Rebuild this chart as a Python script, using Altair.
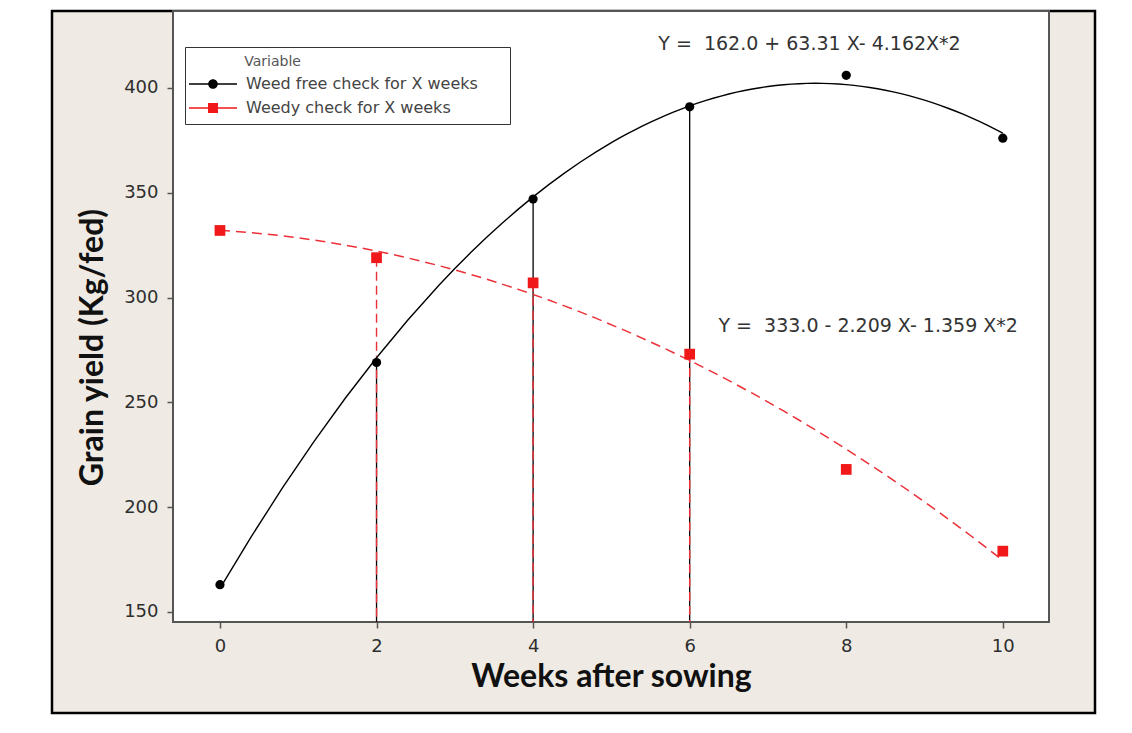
import altair as alt
import pandas as pd

# ---- data ----
weeks = [0, 2, 4, 6, 8, 10]
weed_free = [163, 269, 347, 391, 406, 376]
weedy = [332, 319, 307, 273, 218, 179]
series_names = ["Weed free check for X weeks", "Weedy check for X weeks"]
series_colors = ["#000000", "#f01818"]
drop_weeks = [2, 4, 6]
x_ticks = [0, 2, 4, 6, 8, 10]
y_ticks = [150, 200, 250, 300, 350, 400]
eq_text = ["Y = \u00a0162.0 + 63.31 X- 4.162X*2", "Y = \u00a0333.0 - 2.209 X- 1.359 X*2"]
eq_week = [7.53, 8.28]
eq_yield = [421, 286.5]

# ---- layout / style constants ----
W, H = 876, 611
X_DOMAIN = [-0.6, 10.59]
Y_DOMAIN = [145.2, 436.7]
BEIGE = "#efebe4"
RED_LINE = "#ec3038"

df = pd.DataFrame({
    "week": weeks * 2,
    "yield": weed_free + weedy,
    "series": [series_names[0]] * len(weeks) + [series_names[1]] * len(weeks),
})
eq_df = pd.DataFrame({"week": eq_week, "yield": eq_yield, "label": eq_text})
one = pd.DataFrame({"k": [0]})

x_enc = alt.X(
    "week:Q",
    scale=alt.Scale(domain=X_DOMAIN, nice=False, zero=False),
    axis=alt.Axis(
        values=x_ticks, title="Weeks after sowing", zindex=1, domain=False, grid=False,
        tickColor="#555", tickSize=6, tickWidth=1.5, labelPadding=9,
        labelFont="DejaVu Sans", labelFontSize=18, labelColor="#2e2e2e",
        titleFont="Lato", titleFontSize=32, titleFontWeight="bold", titleColor="#111",
        titleY=54, titleBaseline="middle",
    ),
)
y_enc = alt.Y(
    "yield:Q",
    scale=alt.Scale(domain=Y_DOMAIN, nice=False, zero=False),
    axis=alt.Axis(
        values=y_ticks, title="Grain yield (Kg/fed)", zindex=1, domain=False, grid=False,
        tickColor="#555", tickSize=6, tickWidth=1.5, labelPadding=9,
        labelFont="DejaVu Sans", labelFontSize=18, labelColor="#2e2e2e",
        titleFont="Lato", titleFontSize=32, titleFontWeight="bold", titleColor="#111",
        titleX=-81, titleY=336, titleAngle=270, titleAlign="center", titleBaseline="middle",
    ),
)

# decorative frame and plot background
frame = alt.Chart(one).mark_rect(fill=BEIGE, stroke="#000", strokeWidth=2.5).encode(
    x=alt.value(-121), x2=alt.value(922), y=alt.value(0), y2=alt.value(702)
)
plot_bg = alt.Chart(one).mark_rect(fill="white", stroke="#555", strokeWidth=2).encode(
    x=alt.value(0), x2=alt.value(W), y=alt.value(0), y2=alt.value(H)
)

base = alt.Chart(df)
is_free = alt.datum.series == series_names[0]
is_weedy = alt.datum.series == series_names[1]
drops = base.transform_filter(alt.FieldOneOfPredicate(field="week", oneOf=drop_weeks))
drop_black = drops.transform_filter(is_free).mark_rule(
    color=series_colors[0], strokeWidth=1.3
).encode(x=x_enc, y=y_enc, y2=alt.Y2Datum(Y_DOMAIN[0]))
drop_red = drops.transform_filter(is_weedy).mark_rule(
    color=RED_LINE, strokeWidth=1.4, strokeDash=[9, 5]
).encode(x=x_enc, y=y_enc, y2=alt.Y2Datum(Y_DOMAIN[0]))

fit_free = base.transform_filter(is_free).transform_regression(
    "week", "yield", method="poly", order=2, extent=[0, 10]
).mark_line(strokeWidth=1.4, color=series_colors[0]).encode(x=x_enc, y=y_enc)
fit_weedy = base.transform_filter(is_weedy).transform_regression(
    "week", "yield", method="poly", order=2, extent=[0, 10]
).mark_line(strokeWidth=1.5, color=RED_LINE, strokeDash=[10, 6]).encode(x=x_enc, y=y_enc)

pts_free = base.transform_filter(is_free).mark_point(
    filled=True, opacity=1, shape="circle", size=85, color=series_colors[0]
).encode(x=x_enc, y=y_enc)
pts_weedy = base.transform_filter(is_weedy).mark_point(
    filled=True, opacity=1, shape="square", size=115, color=series_colors[1]
).encode(x=x_enc, y=y_enc)

# legend glyphs: line segment + marker, all filled
circle_path = ("M-6,-0.19H-1.1V0.19H-6Z M1.1,-0.19H6V0.19H1.1Z "
               "M1.2,0A1.2,1.2,0,1,1,-1.2,0A1.2,1.2,0,1,1,1.2,0Z")
square_path = ("M-6,-0.19H-1.25V0.19H-6Z M1.25,-0.19H6V0.19H1.25Z "
               "M-1.25,-1.25H1.25V1.25H-1.25Z")
leg = alt.Legend(
    title="\u2800" * 5 + "Variable", orient="none", legendX=12, legendY=36,
    strokeColor="#333", fillColor="white", padding=8, cornerRadius=0,
    titleFont="DejaVu Sans", titleFontSize=14, titleFontWeight="normal", titleColor="#555",
    titlePadding=7, labelFont="DejaVu Sans", labelFontSize=16, labelColor="#444",
    labelLimit=600, symbolSize=64, symbolStrokeWidth=0, symbolOpacity=1,
    symbolOffset=12, labelOffset=25, rowPadding=8,
    labelExpr="datum.label + '\u2800\u2800'",
)
legend_layer = base.mark_point(filled=True, size=0).encode(
    x=x_enc, y=y_enc,
    color=alt.Color("series:N", scale=alt.Scale(domain=series_names, range=series_colors), legend=leg),
    shape=alt.Shape("series:N", scale=alt.Scale(domain=series_names, range=[circle_path, square_path]), legend=leg),
)

eqs = alt.Chart(eq_df).mark_text(
    font="DejaVu Sans", fontSize=19, color="#333", align="center", baseline="middle"
).encode(x=x_enc, y=y_enc, text="label:N")

chart = alt.layer(
    frame, plot_bg, drop_black, drop_red, fit_free, fit_weedy, pts_free, pts_weedy, legend_layer, eqs
).properties(
    width=W, height=H,
    padding={"left": 165, "top": 3, "right": 60, "bottom": 95},
    autosize=alt.AutoSizeParams(type="none"),
    background="white",
).configure_view(strokeWidth=0)

chart.save("out.html", embed_options={"renderer": "svg", "actions": False})
